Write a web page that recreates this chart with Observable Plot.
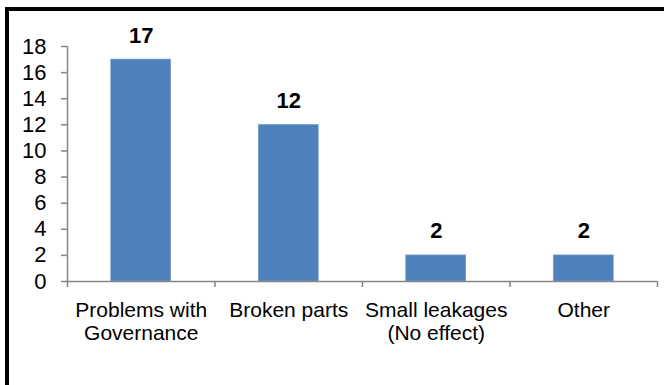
<!DOCTYPE html>
<html>
<head>
<meta charset="utf-8">
<script src="https://cdn.jsdelivr.net/npm/d3@7"></script>
<script src="https://cdn.jsdelivr.net/npm/@observablehq/plot@0.6"></script>
<style>
  html, body { margin: 0; padding: 0; background: #fff; }
  #wrap { position: relative; width: 664px; height: 385px; overflow: hidden; background: #fff; }
  #frame { position: absolute; left: 5px; top: 7px; width: 700px; height: 400px;
           border-top: 4px solid #000; border-left: 4px solid #000; box-sizing: border-box; }
  #chart { position: absolute; left: 0; top: 0; }
</style>
</head>
<body>
<div id="wrap"><div id="frame"></div><div id="chart"></div></div>
<script>
const categories = ["Problems with\nGovernance", "Broken parts", "Small leakages\n(No effect)", "Other"];
const values = [17, 12, 2, 2];
const yTicks = [0, 2, 4, 6, 8, 10, 12, 14, 16, 18];

const data = categories.map((c, i) => ({ category: c, index: i, value: values[i] }));
const barFrac = 0.407;
const axisColor = "#868686";
const font = "Liberation Sans, Arial, sans-serif";

const chart = Plot.plot({
  width: 664,
  height: 385,
  marginLeft: 67,
  marginRight: 7,
  marginTop: 46,
  marginBottom: 104,
  style: { fontFamily: font, fontSize: "21px", color: "#000", background: "transparent" },
  x: { type: "linear", domain: [0, categories.length] },
  y: { domain: [0, 18] },
  marks: [
    Plot.rectY(data, {
      x1: d => d.index + 0.5 - barFrac / 2,
      x2: d => d.index + 0.5 + barFrac / 2,
      y1: 0,
      y2: "value",
      fill: "#4F81BD",
      stroke: "#7EA3D1",
      strokeWidth: 0.6
    }),
    Plot.ruleX([0], { y1: 0, y2: 18, stroke: axisColor, strokeWidth: 1.5 }),
    Plot.ruleY([0], { x1: 0, x2: categories.length, stroke: axisColor, strokeWidth: 1.5 }),
    Plot.axisY({ ticks: yTicks, tickSize: 6, tickPadding: 15, stroke: axisColor, strokeWidth: 1.5,
                 fill: "#000", fontSize: 22, label: null, tickFormat: d => String(d) }),
    Plot.axisX({ ticks: d3.range(categories.length + 1), tickSize: 6, tickFormat: () => "",
                 stroke: axisColor, strokeWidth: 1.5, label: null }),
    Plot.axisX({ ticks: data.map(d => d.index + 0.5), tickSize: 0, tickPadding: 19,
                 tickFormat: v => categories[Math.floor(v)], lineHeight: 1.1,
                 fill: "#000", fontSize: 21, label: null }),
    Plot.text(data, {
      x: d => d.index + 0.5,
      y: "value",
      text: d => String(d.value),
      lineAnchor: "bottom",
      dy: -17,
      fontWeight: "bold",
      fontSize: 22,
      fill: "#000"
    })
  ]
});
document.getElementById("chart").appendChild(chart);
</script>
</body>
</html>
